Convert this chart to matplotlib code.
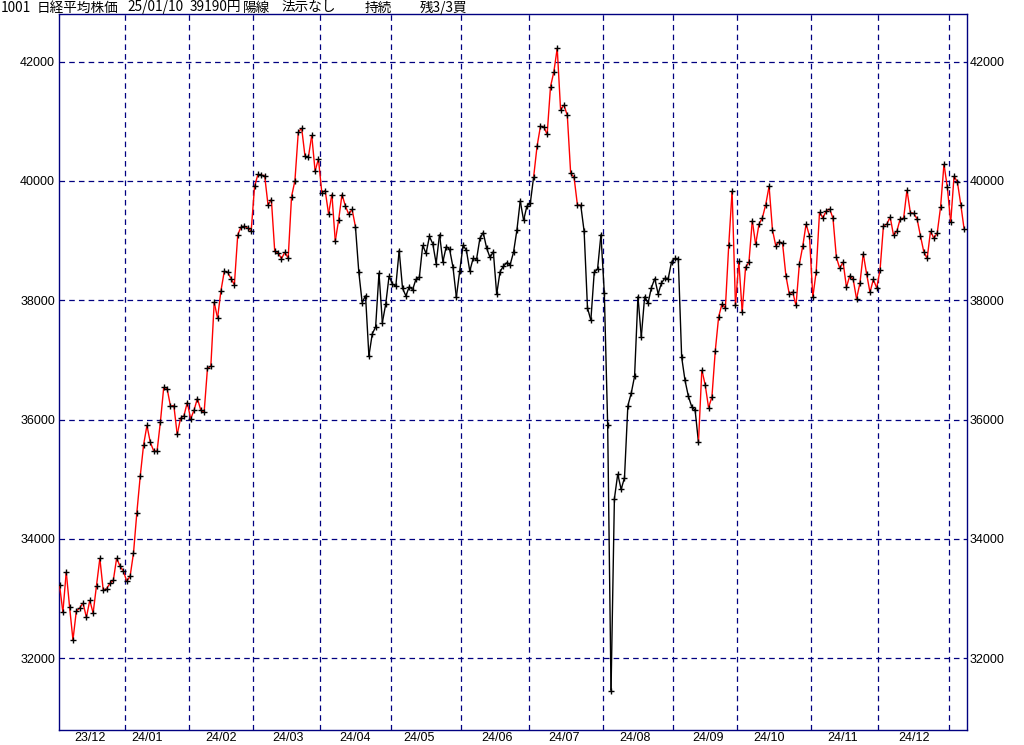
import matplotlib
matplotlib.use("Agg")
import matplotlib.pyplot as plt
from matplotlib.collections import LineCollection
import numpy as np
import pandas as pd

# ---------------- data ----------------
dates = [
    # 2023-12
    "2023-12-04", "2023-12-05", "2023-12-06", "2023-12-07", "2023-12-08",
    "2023-12-11", "2023-12-12", "2023-12-13", "2023-12-14", "2023-12-15",
    "2023-12-18", "2023-12-19", "2023-12-20", "2023-12-21", "2023-12-22",
    "2023-12-25", "2023-12-26", "2023-12-27", "2023-12-28", "2023-12-29",
    # 2024-01
    "2024-01-04", "2024-01-05", "2024-01-09", "2024-01-10", "2024-01-11", "2024-01-12",
    "2024-01-15", "2024-01-16", "2024-01-17", "2024-01-18", "2024-01-19",
    "2024-01-22", "2024-01-23", "2024-01-24", "2024-01-25", "2024-01-26",
    "2024-01-29", "2024-01-30", "2024-01-31",
    # 2024-02
    "2024-02-01", "2024-02-02", "2024-02-05", "2024-02-06", "2024-02-07", "2024-02-08",
    "2024-02-09", "2024-02-13", "2024-02-14", "2024-02-15", "2024-02-16",
    "2024-02-19", "2024-02-20", "2024-02-21", "2024-02-22",
    "2024-02-26", "2024-02-27", "2024-02-28", "2024-02-29",
    # 2024-03
    "2024-03-01", "2024-03-04", "2024-03-05", "2024-03-06", "2024-03-07", "2024-03-08",
    "2024-03-11", "2024-03-12", "2024-03-13", "2024-03-14", "2024-03-15",
    "2024-03-18", "2024-03-19", "2024-03-21", "2024-03-22",
    "2024-03-25", "2024-03-26", "2024-03-27", "2024-03-28", "2024-03-29",
    # 2024-04
    "2024-04-01", "2024-04-02", "2024-04-03", "2024-04-04", "2024-04-05",
    "2024-04-08", "2024-04-09", "2024-04-10", "2024-04-11", "2024-04-12",
    "2024-04-15", "2024-04-16", "2024-04-17", "2024-04-18", "2024-04-19",
    "2024-04-22", "2024-04-23", "2024-04-24", "2024-04-25", "2024-04-26",
    "2024-04-30",
    # 2024-05
    "2024-05-01", "2024-05-02", "2024-05-07", "2024-05-08", "2024-05-09", "2024-05-10",
    "2024-05-13", "2024-05-14", "2024-05-15", "2024-05-16", "2024-05-17",
    "2024-05-20", "2024-05-21", "2024-05-22", "2024-05-23", "2024-05-24",
    "2024-05-27", "2024-05-28", "2024-05-29", "2024-05-30", "2024-05-31",
    # 2024-06
    "2024-06-03", "2024-06-04", "2024-06-05", "2024-06-06", "2024-06-07",
    "2024-06-10", "2024-06-11", "2024-06-12", "2024-06-13", "2024-06-14",
    "2024-06-17", "2024-06-18", "2024-06-19", "2024-06-20", "2024-06-21",
    "2024-06-24", "2024-06-25", "2024-06-26", "2024-06-27", "2024-06-28",
    # 2024-07
    "2024-07-01", "2024-07-02", "2024-07-03", "2024-07-04", "2024-07-05",
    "2024-07-08", "2024-07-09", "2024-07-10", "2024-07-11", "2024-07-12",
    "2024-07-16", "2024-07-17", "2024-07-18", "2024-07-19",
    "2024-07-22", "2024-07-23", "2024-07-24", "2024-07-25", "2024-07-26",
    "2024-07-29", "2024-07-30", "2024-07-31",
    # 2024-08
    "2024-08-01", "2024-08-02", "2024-08-05", "2024-08-06", "2024-08-07", "2024-08-08",
    "2024-08-09", "2024-08-13", "2024-08-14", "2024-08-15", "2024-08-16",
    "2024-08-19", "2024-08-20", "2024-08-21", "2024-08-22", "2024-08-23",
    "2024-08-26", "2024-08-27", "2024-08-28", "2024-08-29", "2024-08-30",
    # 2024-09
    "2024-09-02", "2024-09-03", "2024-09-04", "2024-09-05", "2024-09-06",
    "2024-09-09", "2024-09-10", "2024-09-11", "2024-09-12", "2024-09-13",
    "2024-09-17", "2024-09-18", "2024-09-19", "2024-09-20",
    "2024-09-24", "2024-09-25", "2024-09-26", "2024-09-27", "2024-09-30",
    # 2024-10
    "2024-10-01", "2024-10-02", "2024-10-03", "2024-10-04",
    "2024-10-07", "2024-10-08", "2024-10-09", "2024-10-10", "2024-10-11",
    "2024-10-15", "2024-10-16", "2024-10-17", "2024-10-18",
    "2024-10-21", "2024-10-22", "2024-10-23", "2024-10-24", "2024-10-25",
    "2024-10-28", "2024-10-29", "2024-10-30", "2024-10-31",
    # 2024-11
    "2024-11-01", "2024-11-05", "2024-11-06", "2024-11-07", "2024-11-08",
    "2024-11-11", "2024-11-12", "2024-11-13", "2024-11-14", "2024-11-15",
    "2024-11-18", "2024-11-19", "2024-11-20", "2024-11-21", "2024-11-22",
    "2024-11-25", "2024-11-26", "2024-11-27", "2024-11-28", "2024-11-29",
    # 2024-12
    "2024-12-02", "2024-12-03", "2024-12-04", "2024-12-05", "2024-12-06",
    "2024-12-09", "2024-12-10", "2024-12-11", "2024-12-12", "2024-12-13",
    "2024-12-16", "2024-12-17", "2024-12-18", "2024-12-19", "2024-12-20",
    "2024-12-23", "2024-12-24", "2024-12-25", "2024-12-26", "2024-12-27",
    "2024-12-30",
    # 2025-01
    "2025-01-06", "2025-01-07", "2025-01-08", "2025-01-09", "2025-01-10",
]

closes = [
    # 2023-12
    33231, 32776, 33446, 32858, 32308, 32792, 32843, 32926, 32686, 32971,
    32759, 33219, 33676, 33140, 33169, 33254, 33306, 33681, 33540, 33464,
    # 2024-01
    33288, 33377, 33763, 34442, 35050, 35577, 35902, 35619, 35478, 35466,
    35963, 36547, 36518, 36226, 36236, 35751, 36027, 36066, 36287,
    # 2024-02
    36011, 36158, 36354, 36161, 36120, 36863, 36897, 37964, 37703, 38158,
    38487, 38470, 38364, 38262, 39099, 39234, 39240, 39208, 39166,
    # 2024-03
    39911, 40109, 40098, 40091, 39599, 39689, 38820, 38798, 38696, 38807,
    38708, 39740, 40004, 40816, 40888, 40414, 40398, 40763, 40168, 40369,
    # 2024-04
    39803, 39839, 39452, 39773, 38992, 39347, 39773, 39582, 39443, 39524,
    39233, 38471, 37962, 38080, 37068, 37439, 37552, 38460, 37628, 37935,
    38406,
    # 2024-05
    38274, 38236, 38835, 38202, 38074, 38229, 38179, 38356, 38386, 38920,
    38787, 39070, 38947, 38617, 39103, 38646, 38900, 38855, 38557, 38054,
    38488,
    # 2024-06
    38923, 38837, 38490, 38704, 38684, 39038, 39135, 38877, 38720, 38815,
    38102, 38482, 38571, 38633, 38596, 38805, 39173, 39667, 39342, 39583,
    # 2024-07
    39631, 40075, 40581, 40914, 40912, 40781, 41580, 41832, 42224, 41191,
    41275, 41098, 40126, 40064, 39599, 39594, 39155, 37870, 37667, 38469,
    38526, 39102,
    # 2024-08
    38126, 35910, 31458, 34675, 35090, 34831, 35025, 36233, 36442, 36727,
    38063, 37389, 38063, 37952, 38211, 38364, 38110, 38289, 38372, 38363,
    38648,
    # 2024-09
    38701, 38686, 37048, 36657, 36391, 36216, 36159, 35620, 36833, 36582,
    36203, 36380, 37155, 37724, 37941, 37870, 38926, 39830, 37920,
    # 2024-10
    38652, 37809, 38552, 38636, 39333, 38938, 39277, 39381, 39606, 39911,
    39180, 38911, 38982, 38955, 38412, 38105, 38143, 37914, 38606, 38904,
    39278, 39081,
    # 2024-11
    38054, 38475, 39481, 39381, 39500, 39533, 39376, 38722, 38536, 38643,
    38221, 38414, 38352, 38026, 38284, 38780, 38442, 38135, 38349, 38208,
    # 2024-12
    38513, 39249, 39276, 39396, 39091, 39161, 39368, 39372, 39849, 39470,
    39457, 39365, 39082, 38814, 38702, 39161, 39037, 39130, 39568, 40281,
    39895,
    # 2025-01
    39307, 40083, 39981, 39605, 39190,
]

# trend state (red = 陽, black = 陰) switches, effective from the given day
trend_switch_dates = ["2023-12-04", "2024-04-16", "2024-07-03", "2024-07-24", "2024-09-12"]
trend_switch_states = ["up", "down", "up", "down", "up"]

month_labels = ["23/12", "24/01", "24/02", "24/03", "24/04", "24/05", "24/06",
                "24/07", "24/08", "24/09", "24/10", "24/11", "24/12"]
y_ticks = [32000, 34000, 36000, 38000, 40000, 42000]
title_parts = ["1001", "日経平均株価", "25/01/10", "39190円", "陽線", "法示なし", "持続", "残3/3買"]

# ---------------- drawing ----------------
plt.rcParams['font.family'] = ['Liberation Sans', 'Noto Sans CJK JP', 'DejaVu Sans']
plt.rcParams['lines.scale_dashes'] = False

W, H = 1024, 745
fig = plt.figure(figsize=(W / 100, H / 100), dpi=100)
fig.patch.set_facecolor('white')

ax_left, ax_right, ax_top, ax_bottom = 58.5, 966.5, 14.3, 730.0
ax = fig.add_axes([ax_left / W, 1 - ax_bottom / H, (ax_right - ax_left) / W, (ax_bottom - ax_top) / H])

navy = '#000080'
dt = pd.to_datetime(dates)
x = np.arange(len(closes))
y = np.array(closes, dtype=float)

# trend state per day
sw = pd.to_datetime(trend_switch_dates)
state = np.empty(len(x), dtype=object)
for d, s in zip(sw, trend_switch_states):
    state[dt >= d] = s
seg_colors = ['#ff0000' if state[i + 1] == 'up' else '#000000' for i in range(len(x) - 1)]
segs = [[(x[i], y[i]), (x[i + 1], y[i + 1])] for i in range(len(x) - 1)]
lc = LineCollection(segs, colors=seg_colors, linewidths=1.0, zorder=3, capstyle='butt')
ax.add_collection(lc)
ax.plot(x, y, linestyle='none', marker='+', color='black', markersize=3.8,
        markeredgewidth=1.0, zorder=4)

# month boundaries
periods = dt.to_period('M')
month_first = [0] + [i for i in range(1, len(x)) if periods[i] != periods[i - 1]]
month_bounds = [m - 0.5 for m in month_first] + [len(x) - 0.5]
for b in month_bounds[1:-1]:
    ax.axvline(b, color=navy, linewidth=0.9, linestyle=(0, (4, 3)), zorder=1)
for v in y_ticks:
    ax.axhline(v, color=navy, linewidth=0.9, linestyle=(0, (4, 3)), zorder=1)

# month label placed at first trading day on/after the 15th
label_pos = []
for lab in month_labels:
    yy, mm = 2000 + int(lab[:2]), int(lab[3:])
    mid = pd.Timestamp(year=yy, month=mm, day=15)
    label_pos.append(int(np.argmax(dt >= mid)))
ax.set_xticks(label_pos)
ax.set_xticklabels(month_labels)
ax.set_yticks(y_ticks)
ax.set_yticklabels([str(v) for v in y_ticks])
ax.tick_params(axis='both', length=0, labelsize=9, colors='black')
ax.tick_params(axis='y', pad=2.5, labelright=True)
ax.tick_params(axis='x', pad=1.5)

ax.set_xlim(-0.3, len(x) - 0.3)
ax.set_ylim(30798, 42794)
for sp in ax.spines.values():
    sp.set_color(navy)
    sp.set_linewidth(1.0)

# header text
title_x_px = [1, 37, 127, 190, 243, 282, 365, 420]
for t, px in zip(title_parts, title_x_px):
    fig.text(px / W, 1 - 7.5 / H, t, ha='left', va='center', fontsize=9.8,
             family=['Noto Sans CJK JP', 'DejaVu Sans'], color='black')

fig.savefig('out.png', dpi=100, facecolor='white')
